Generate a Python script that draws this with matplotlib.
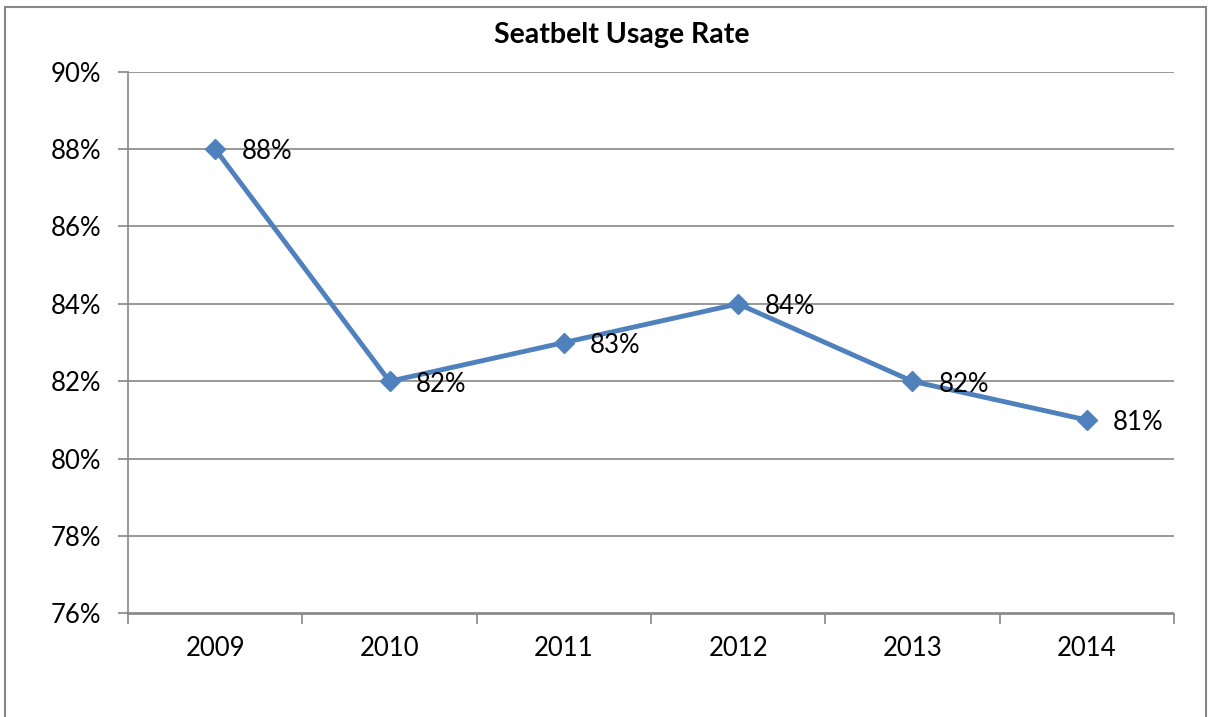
import numpy as np
import matplotlib.pyplot as plt
from matplotlib.patches import Rectangle

years = ["2009", "2010", "2011", "2012", "2013", "2014"]
rates = [88, 82, 83, 84, 82, 81]
y_ticks = [76, 78, 80, 82, 84, 86, 88, 90]

plt.rcParams['font.family'] = ['Lato', 'DejaVu Sans']

fig = plt.figure(figsize=(12.1, 7.17), dpi=100)
ax = fig.add_axes([128/1210, 1 - 613.5/717, (1174 - 128)/1210, (613.5 - 71.7)/717])

grid_col = "#868686"
blue = "#4F81BD"

x = np.arange(len(years))
ax.plot(x, rates, color=blue, lw=3.5, marker="D", ms=10, zorder=3)
for xi, r in zip(x, rates):
    ax.annotate(f"{r}%", (xi, r), xytext=(19, -2), textcoords="offset points",
                ha="left", va="center", fontsize=18.5, color="black", zorder=4)

ax.set_xlim(-0.5, len(years) - 0.5)
ax.set_ylim(76, 90)
ax.set_yticks(y_ticks)
ax.set_yticklabels([f"{v}%" for v in y_ticks], fontsize=18.5)
ax.set_xticks(x)
ax.set_xticklabels(years, fontsize=18.5)
ax.set_xticks(np.arange(-0.5, len(years)), minor=True)
ax.tick_params(axis="x", which="major", length=0, pad=16)
ax.tick_params(axis="x", which="minor", length=7, color=grid_col, width=1.2)
ax.tick_params(axis="y", length=7, color=grid_col, width=1.2, pad=12)

ax.yaxis.grid(True, color=grid_col, lw=1.2)
ax.set_axisbelow(True)
for s in ["top", "right"]:
    ax.spines[s].set_visible(False)
for s in ["left", "bottom"]:
    ax.spines[s].set_color(grid_col)
    ax.spines[s].set_linewidth(1.2)

fig.text(622/1210, 1 - 35/717, "Seatbelt Usage Rate", ha="center", va="center",
         fontsize=20.5, fontweight="bold")

fig.patches.append(Rectangle((5/1210, -0.05), 1201/1210, 1.05 - 7/717,
                             transform=fig.transFigure, fill=False,
                             edgecolor=grid_col, lw=1.5))

fig.savefig("out.png", dpi=100)
